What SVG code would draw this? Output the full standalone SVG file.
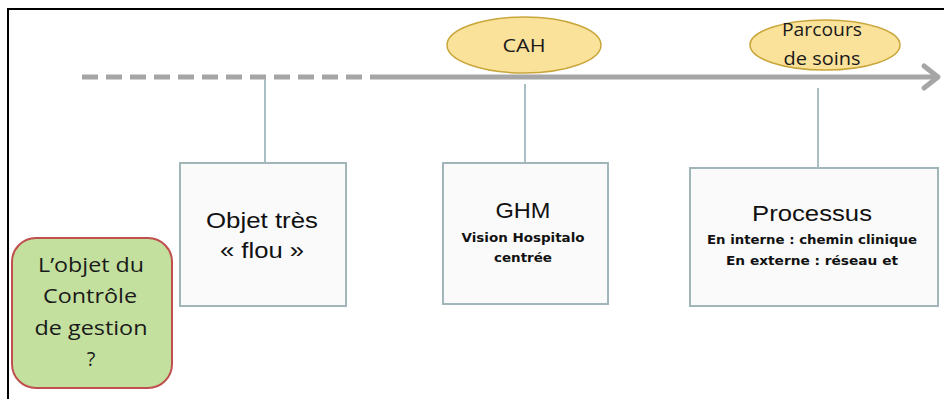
<svg xmlns="http://www.w3.org/2000/svg" width="944" height="399" viewBox="0 0 944 399">
  <style>
    .frame { fill: #ffffff; stroke: #000000; stroke-width: 2; }
    .axis { fill: none; stroke: #a6a6a6; stroke-width: 5; }
    .tick { fill: none; stroke: #a9bfc3; stroke-width: 2; }
    .box { fill: #fafafa; stroke: #a0b6b9; stroke-width: 2; }
    .tag { fill: #fbe29b; stroke: #c9a63a; stroke-width: 1.5; }
    .start { fill: #c3e09f; stroke: #c0504d; stroke-width: 2; }
    .t { font-family: "Liberation Sans", Arial, sans-serif; fill: #111111; text-anchor: middle; }
    .c { font-family: "Open Sans", "Liberation Sans", sans-serif; fill: #1a1a1a; text-anchor: middle; }
    .s { font-family: "DejaVu Sans", Verdana, sans-serif; fill: #111111; text-anchor: middle; font-size: 12px; font-weight: bold; }
  </style>

  <rect class="frame" x="8" y="9" width="945" height="400"/>

  <g id="connectors">
    <line class="axis" x1="82" y1="77" x2="372" y2="77" stroke-dasharray="16 8"/>
    <line class="axis" x1="372" y1="77" x2="938" y2="77"/>
    <polyline class="axis" points="924,66 938,77 924,88" stroke-linecap="round" stroke-linejoin="round"/>
    <line class="tick" x1="265" y1="79" x2="265" y2="163"/>
    <line class="tick" x1="525" y1="84" x2="525" y2="163"/>
    <line class="tick" x1="818" y1="88" x2="818" y2="168"/>
  </g>

  <g id="cah">
    <ellipse class="tag" cx="524" cy="45" rx="77" ry="28"/>
    <text class="c" x="524" y="52" font-size="18" textLength="43" lengthAdjust="spacingAndGlyphs">CAH</text>
  </g>

  <g id="parcours">
    <ellipse class="tag" cx="825" cy="45" rx="75" ry="25"/>
    <text class="c" x="822" y="36" font-size="18" textLength="80" lengthAdjust="spacingAndGlyphs">Parcours</text>
    <text class="c" x="822" y="65" font-size="18" textLength="77" lengthAdjust="spacingAndGlyphs">de soins</text>
  </g>

  <g id="objet-flou">
    <rect class="box" x="180" y="163" width="166" height="143"/>
    <text class="t" x="262" y="228" font-size="22" textLength="112" lengthAdjust="spacingAndGlyphs">Objet très</text>
    <text class="t" x="262" y="258" font-size="22" textLength="84" lengthAdjust="spacingAndGlyphs">« flou »</text>
  </g>

  <g id="ghm">
    <rect class="box" x="443" y="163" width="165" height="141"/>
    <text class="t" x="523" y="218" font-size="22" textLength="55" lengthAdjust="spacingAndGlyphs">GHM</text>
    <text class="s" x="523" y="242" textLength="123" lengthAdjust="spacingAndGlyphs">Vision Hospitalo</text>
    <text class="s" x="523" y="262" textLength="58" lengthAdjust="spacingAndGlyphs">centrée</text>
  </g>

  <g id="processus">
    <rect class="box" x="690" y="168" width="248" height="138"/>
    <text class="t" x="812" y="221" font-size="22" textLength="120" lengthAdjust="spacingAndGlyphs">Processus</text>
    <text class="s" x="812" y="244" textLength="210" lengthAdjust="spacingAndGlyphs">En interne : chemin clinique</text>
    <text class="s" x="812" y="265" textLength="172" lengthAdjust="spacingAndGlyphs">En externe : réseau et</text>
  </g>

  <g id="objet-controle">
    <rect class="start" x="12" y="238" width="160" height="150" rx="24"/>
    <text class="c" x="91" y="272" font-size="20" textLength="106" lengthAdjust="spacingAndGlyphs">L’objet du</text>
    <text class="c" x="90" y="303" font-size="20" textLength="94" lengthAdjust="spacingAndGlyphs">Contrôle</text>
    <text class="c" x="91" y="335" font-size="20" textLength="113" lengthAdjust="spacingAndGlyphs">de gestion</text>
    <text class="c" x="91" y="366" font-size="20">?</text>
  </g>
</svg>
